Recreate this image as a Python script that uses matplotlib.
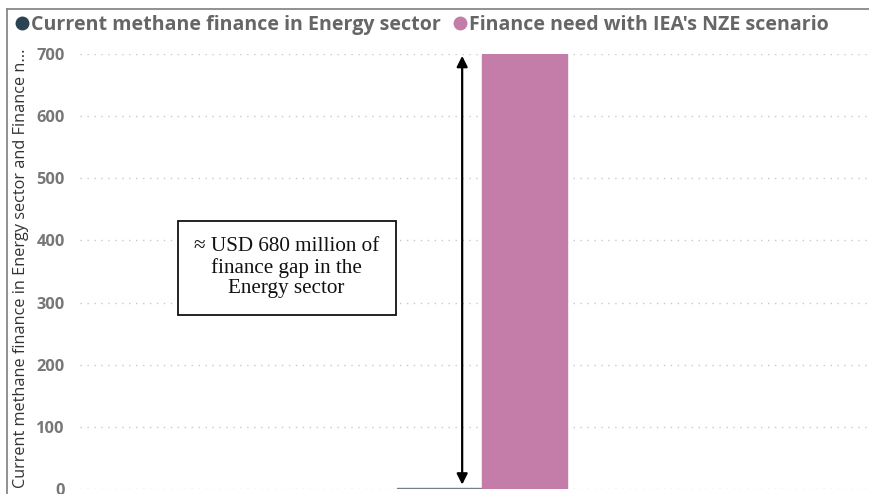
import matplotlib
matplotlib.use("Agg")
import matplotlib.pyplot as plt
from matplotlib.lines import Line2D

# Data (USD million)
series_names = ["Current methane finance in Energy sector",
                "Finance need with IEA's NZE scenario"]
series_values = [2, 700]
series_colors = ["#2B4252", "#C47DA8"]
bar_edge_colors = ["#6E8090", "#C47DA8"]
y_ticks = [0, 100, 200, 300, 400, 500, 600, 700]
gap_note = "\u2248 USD 680 million of\nfinance gap in the\nEnergy sector"
y_label = "Current methane finance in Energy sector and Finance n..."

W, H = 869, 494
fig = plt.figure(figsize=(W / 100, H / 100), dpi=100)
fig.patch.set_facecolor("white")

# axes placed in pixel terms: x 80..869, y 54 (700) .. 489 (0)
ax = fig.add_axes([80 / W, (H - 489) / H, (869 - 80) / W, (489 - 54) / H])
ax.set_ylim(0, 700)
bar_w = 1.0
ax.set_xlim(-4.73, 4.55)

positions = [-0.5, 0.5]
for pos, val, col, ec in zip(positions, series_values, series_colors, bar_edge_colors):
    ax.bar(pos, val, width=bar_w, color=col, edgecolor=ec, linewidth=1.0, zorder=3)

ax.set_yticks(y_ticks)
ax.set_yticklabels([str(t) for t in y_ticks], fontfamily="Open Sans",
                   fontweight="bold", fontsize=11.8, color="#777777")
ax.tick_params(axis="y", length=0, pad=11)
ax.tick_params(axis="x", length=0, labelbottom=False)
ax.yaxis.grid(True, linestyle=(0, (1, 4)), color="#C8C8C8", linewidth=1.0, zorder=0)
ax.set_axisbelow(True)
for s in ax.spines.values():
    s.set_visible(False)

# double-headed arrow spanning the gap
ax.annotate("", xy=(-0.235, 697), xytext=(-0.235, 7),
            arrowprops=dict(arrowstyle="<|-|>", color="black", lw=1.6,
                            mutation_scale=16, shrinkA=0, shrinkB=0), zorder=5)

# gap annotation box
ax.text(-2.3, 356, gap_note, ha="center", va="center", fontsize=15.2,
        fontfamily="Liberation Serif", color="#111111", linespacing=1.1,
        bbox=dict(boxstyle="square,pad=0.78", facecolor="white",
                  edgecolor="#111111", linewidth=1.3), zorder=6)

# y-axis title
fig.text(21 / W, (H - 268) / H, y_label, rotation=90, ha="center", va="center",
         fontfamily="Open Sans", fontsize=11.7, color="#333333")

# legend
handles = [Line2D([], [], marker="o", linestyle="none", markersize=9,
                  markerfacecolor=c, markeredgecolor=c) for c in series_colors]
fig.legend(handles, series_names, loc="center left", bbox_to_anchor=(6 / W, (H - 25) / H),
           ncol=2, frameon=False, handletextpad=0.05, columnspacing=0.62,
           handlelength=0.8, borderaxespad=0,
           prop=dict(family="Open Sans", weight="bold", size=14.15), labelcolor="#666666")

# frame lines along top and left edge
fig.add_artist(Line2D([7 / W, 1], [(H - 9) / H] * 2, color="#888888", lw=1.3))
fig.add_artist(Line2D([7 / W] * 2, [0, (H - 9) / H], color="#888888", lw=1.3))

fig.savefig("out.png", dpi=100)
